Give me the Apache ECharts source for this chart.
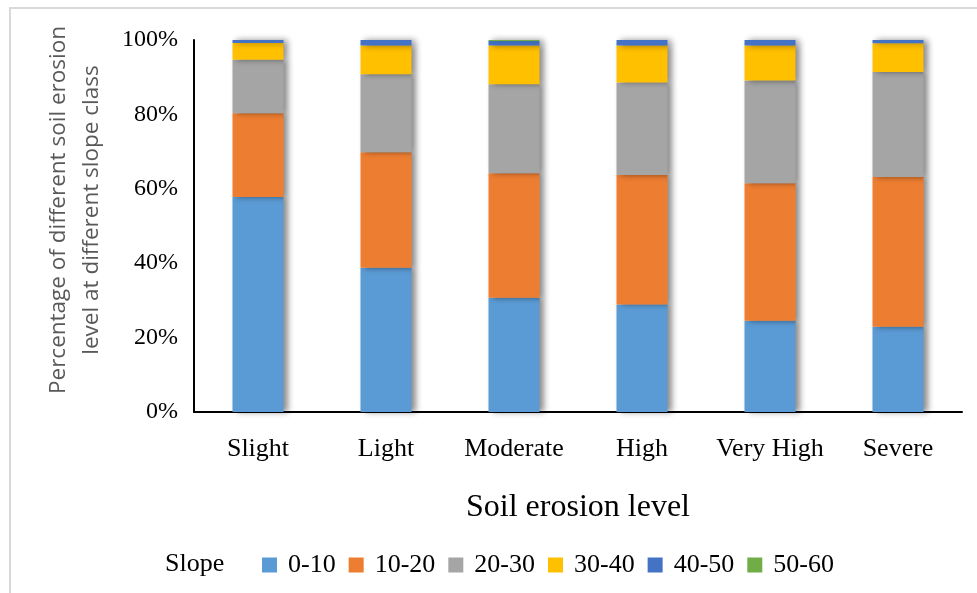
<!DOCTYPE html>
<html>
<head>
<meta charset="utf-8">
<script src="https://cdn.jsdelivr.net/npm/echarts@6/dist/echarts.min.js"></script>
<style>
  html, body { margin: 0; padding: 0; background: #ffffff; }
  #chart { width: 977px; height: 593px; }
</style>
</head>
<body>
<div id="chart"></div>
<script>
// Soil erosion levels (x axis)
const categories = ['Slight', 'Light', 'Moderate', 'High', 'Very High', 'Severe'];

// Slope classes (legend) and share (%) of each erosion level falling in that class
const slopeClasses = ['0-10', '10-20', '20-30', '30-40', '40-50', '50-60'];
const slope0to10  = [57.8, 38.8, 30.7, 28.9, 24.5, 22.9];
const slope10to20 = [22.5, 31.0, 33.5, 34.8, 37.0, 40.3];
const slope20to30 = [14.4, 21.0, 23.9, 24.9, 27.6, 28.2];
const slope30to40 = [4.5, 7.7, 10.4, 9.9, 9.4, 7.7];
const slope40to50 = [0.8, 1.5, 1.2, 1.5, 1.5, 0.9];
const slope50to60 = [0.0, 0.0, 0.3, 0.0, 0.0, 0.0];

const seriesValues = [slope0to10, slope10to20, slope20to30, slope30to40, slope40to50, slope50to60];
const colors = ['#5B9BD5', '#ED7D31', '#A5A5A5', '#FFC000', '#4472C4', '#70AD47'];

const serif = '"Liberation Serif", "Times New Roman", serif';
const sans = '"Open Sans", "Noto Sans", sans-serif';

const chart = echarts.init(document.getElementById('chart'), null, { renderer: 'canvas' });

chart.setOption({
  backgroundColor: '#ffffff',
  animation: false,
  color: colors,
  grid: { left: 194, right: 15, top: 40, bottom: 181 },
  legend: {
    left: 262,
    top: 552,
    padding: 0,
    icon: 'rect',
    itemWidth: 15,
    itemHeight: 15,
    itemGap: 13,
    data: slopeClasses,
    textStyle: { fontFamily: serif, fontSize: 26, color: '#000000', padding: [0, 0, 0, 6] }
  },
  xAxis: {
    type: 'category',
    data: categories,
    axisLine: { lineStyle: { color: '#000000', width: 2 } },
    axisTick: { show: false },
    axisLabel: { fontFamily: serif, fontSize: 26, color: '#000000', margin: 24, interval: 0 },
    name: 'Soil erosion level',
    nameLocation: 'middle',
    nameGap: 80,
    nameTextStyle: { fontFamily: serif, fontSize: 32, color: '#000000' }
  },
  yAxis: {
    type: 'value',
    min: 0,
    max: 100,
    interval: 20,
    splitLine: { show: false },
    axisLine: { show: true, lineStyle: { color: '#000000', width: 2 } },
    axisTick: { show: false },
    axisLabel: { fontFamily: serif, fontSize: 24, color: '#000000', margin: 16, formatter: '{value}%' }
  },
  graphic: [
    {
      type: 'rect',
      shape: { x: 10, y: 8, width: 1000, height: 620 },
      style: { fill: 'none', stroke: '#d9d9d9', lineWidth: 2 },
      silent: true
    },
    {
      type: 'text',
      x: 75,
      y: 210,
      rotation: Math.PI / 2,
      style: {
        text: 'Percentage of different soil erosion\nlevel at different slope class',
        fontFamily: sans,
        fontSize: 22.5,
        lineHeight: 33,
        fill: '#595959',
        align: 'center',
        verticalAlign: 'middle'
      }
    },
    {
      type: 'text',
      left: 165,
      top: 551,
      style: { text: 'Slope', fontFamily: serif, fontSize: 26, fill: '#000000' }
    }
  ],
  series: slopeClasses.map((name, i) => ({
    name: name,
    type: 'bar',
    stack: 'share',
    barWidth: 51,
    data: seriesValues[i],
    itemStyle: {
      color: colors[i],
      shadowColor: 'rgba(0, 0, 0, 0.45)',
      shadowBlur: 6,
      shadowOffsetX: 4,
      shadowOffsetY: 0
    }
  }))
});
</script>
</body>
</html>
